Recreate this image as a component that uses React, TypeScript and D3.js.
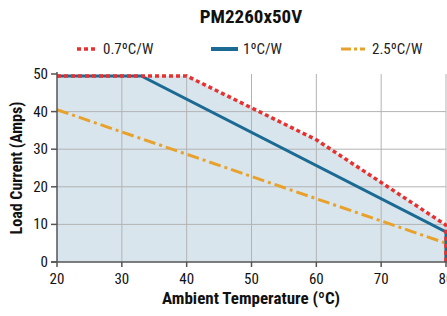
import React from 'react';
import * as d3 from 'd3';

const title = 'PM2260x50V';
const xTicks = [20, 30, 40, 50, 60, 70, 80];
const yTicks = [0, 10, 20, 30, 40, 50];

const temp07 = [20, 40, 60, 80, 80];
const amps07 = [49.5, 49.5, 32.5, 9.8, 0];
const temp1 = [20, 33, 80, 80];
const amps1 = [49.5, 49.5, 8, 0];
const temp25 = [20, 80, 80];
const amps25 = [40.5, 5, 0];

const seriesNames = ['0.7ºC/W', '1ºC/W', '2.5ºC/W'];

const FONT = "'Liberation Sans Narrow', 'Roboto Condensed', 'DejaVu Sans Condensed', Arial, sans-serif";

const W = 447;
const H = 316;
const margin = { top: 74, right: 1, bottom: 54, left: 57 };

const App: React.FC = () => {
  const x = d3.scaleLinear().domain([20, 80]).range([margin.left, W - margin.right]);
  const y = d3.scaleLinear().domain([0, 50]).range([H - margin.bottom, margin.top]);

  const pts = (xs: number[], ys: number[]) => xs.map((t, i) => [t, ys[i]] as [number, number]);

  const line = d3.line<[number, number]>().x(d => x(d[0])).y(d => y(d[1]));
  const area = d3.area<[number, number]>().x(d => x(d[0])).y0(y(0)).y1(d => y(d[1]));

  const red = '#e8312f';
  const blue = '#1b6a93';
  const orange = '#e8a22c';

  return (
    <svg width={W} height={H} style={{ position: 'absolute', left: 0, top: 0, overflow: 'hidden' }}>
      <text x={251} y={23} textAnchor="middle" fontFamily={FONT} fontWeight="bold" fontSize={19} fill="#111">{title}</text>

      {/* legend */}
      <g fontFamily={FONT} fontSize={15} fill="#222">
        <line x1={77} x2={98} y1={49} y2={49} stroke={red} strokeWidth={3.5} strokeDasharray="4 3" />
        <text x={103} y={54}>{seriesNames[0]}</text>
        <line x1={211} x2={238} y1={49} y2={49} stroke={blue} strokeWidth={4} />
        <text x={243} y={54}>{seriesNames[1]}</text>
        <line x1={341} x2={365} y1={49} y2={49} stroke={orange} strokeWidth={3} strokeDasharray="10 3 3 3" />
        <text x={372} y={54}>{seriesNames[2]}</text>
      </g>

      <path d={area(pts(temp07, amps07)) || ''} fill="#d9e5ec" />

      {xTicks.slice(1).map(t => (
        <line key={'gx' + t} x1={x(t)} x2={x(t)} y1={y(0)} y2={y(50)} stroke="#b3b3b3" strokeWidth={1} />
      ))}
      {yTicks.slice(1, -1).map(t => (
        <line key={'gy' + t} x1={x(20)} x2={x(80)} y1={y(t)} y2={y(t)} stroke="#b3b3b3" strokeWidth={1} />
      ))}

      <path d={line(pts(temp25, amps25)) || ''} fill="none" stroke={orange} strokeWidth={3} strokeDasharray="12 4 3 4" />
      <path d={line(pts(temp1, amps1)) || ''} fill="none" stroke={blue} strokeWidth={3} />
      <path d={line(pts(temp07, amps07)) || ''} fill="none" stroke={red} strokeWidth={3.5} strokeDasharray="4 3" />

      {/* axes */}
      <line x1={x(20)} x2={x(20)} y1={y(0)} y2={y(50) - 2} stroke="#555" strokeWidth={1.5} />
      <line x1={x(20) - 6} x2={W} y1={y(0)} y2={y(0)} stroke="#555" strokeWidth={1.5} />
      <g fontFamily={FONT} fontSize={15} fill="#111">
        {yTicks.map(t => (
          <g key={'yt' + t}>
            <line x1={x(20) - 6} x2={x(20)} y1={y(t)} y2={y(t)} stroke="#555" strokeWidth={1.5} />
            <text x={x(20) - 9} y={y(t) + 5} textAnchor="end">{t}</text>
          </g>
        ))}
        {xTicks.map(t => (
          <g key={'xt' + t}>
            <line x1={x(t)} x2={x(t)} y1={y(0)} y2={y(0) + 5} stroke="#555" strokeWidth={1.5} />
            <text x={x(t)} y={y(0) + 22} textAnchor="middle">{t}</text>
          </g>
        ))}
      </g>

      <text x={251} y={304} textAnchor="middle" fontFamily={FONT} fontWeight="bold" fontSize={17} fill="#111">Ambient Temperature (ºC)</text>
      <text transform={`translate(22, ${(y(0) + y(50)) / 2}) rotate(-90)`} textAnchor="middle" fontFamily={FONT} fontWeight="bold" fontSize={16} fill="#111">Load Current (Amps)</text>
    </svg>
  );
};

export default App;
